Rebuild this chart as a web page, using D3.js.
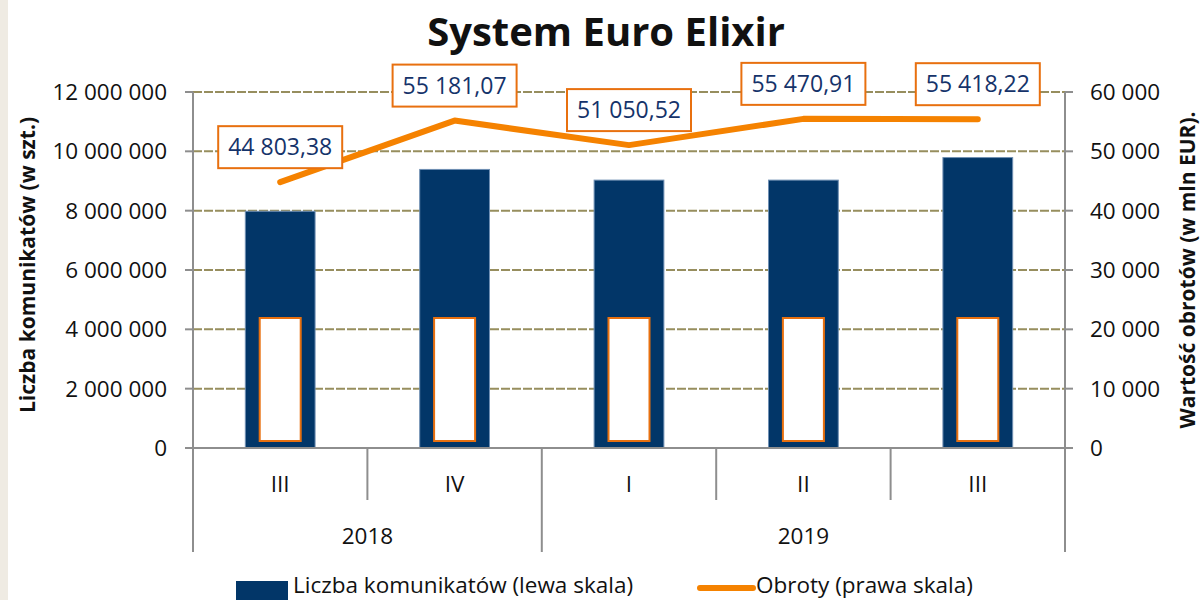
<!DOCTYPE html>
<html>
<head>
<meta charset="utf-8">
<title>System Euro Elixir</title>
<script src="https://cdn.jsdelivr.net/npm/d3@7"></script>
<style>
	body { margin: 0; background: #ffffff; }
	svg text { font-family: "Open Sans", "Noto Sans", sans-serif; fill: #111; }
	.grid line { stroke: #978e5e; stroke-width: 2; stroke-dasharray: 9 2; }
	.axisLine { stroke: #8e8e8e; stroke-width: 2; }
	.bar { fill: #023668; stroke: #6f8fb3; stroke-width: 1; }
	.innerBox { fill: #ffffff; stroke: #e8700f; stroke-width: 2; }
	.lineBox { fill: #ffffff; stroke: #e8700f; stroke-width: 2; }
	.lineLabel { fill: #15336a !important; font-size: 23px; text-anchor: middle; }
	.tick { font-size: 22.5px; }
	.legText { font-size: 22.5px; }
</style>
</head>
<body>
<div id="chart"></div>
<script>
var width  = 1202;
var height = 600;

// data
var quarters = ["III", "IV", "I", "II", "III"];
var years    = ["2018", "2019"];
var yearSpan = [2, 3]; // number of quarters in each year
var messages = [7980000, 9390000, 9030000, 9030000, 9790000];
var turnover = [44803.38, 55181.07, 51050.52, 55470.91, 55418.22];
var leftTicks  = [0, 2000000, 4000000, 6000000, 8000000, 10000000, 12000000];
var rightTicks = [0, 10000, 20000, 30000, 40000, 50000, 60000];

var plot = { left: 193, right: 1065, top: 92, bottom: 448 };

var pl = d3.formatLocale({ decimal: ",", thousands: "\u00a0", grouping: [3], currency: ["", ""] });
var fmtInt = pl.format(",d");
var fmtDec = pl.format(",.2f");

var svg = d3.select("#chart").append("svg")
	.attr("width", width)
	.attr("height", height);

// beige strip at left edge
svg.append("rect").attr("x", 0).attr("y", 0).attr("width", 8).attr("height", height).attr("fill", "#efebe3");

var x = d3.scaleBand()
	.domain(d3.range(quarters.length))
	.range([plot.left, plot.right])
	.paddingInner(0.6)
	.paddingOuter(0.3);

var yL = d3.scaleLinear().domain([0, 12000000]).range([plot.bottom, plot.top]);
var yR = d3.scaleLinear().domain([0, 60000]).range([plot.bottom, plot.top]);

// gridlines
svg.append("g").attr("class", "grid")
	.selectAll("line").data(leftTicks.slice(1)).enter().append("line")
	.attr("x1", plot.left).attr("x2", plot.right)
	.attr("y1", function(d) { return yL(d); })
	.attr("y2", function(d) { return yL(d); });

// bars
svg.selectAll(".bar").data(messages).enter().append("rect")
	.attr("class", "bar")
	.attr("x", function(d, i) { return x(i); })
	.attr("width", x.bandwidth())
	.attr("y", function(d) { return yL(d); })
	.attr("height", function(d) { return yL(0) - yL(d); });

// empty (vertical) bar label boxes
svg.selectAll(".innerBox").data(messages).enter().append("rect")
	.attr("class", "innerBox")
	.attr("x", function(d, i) { return x(i) + x.bandwidth() / 2 - 20.5; })
	.attr("width", 41)
	.attr("y", yL(0) - 7 - 123)
	.attr("height", 123);

// axes lines
svg.append("line").attr("class", "axisLine")
	.attr("x1", plot.left).attr("x2", plot.left).attr("y1", plot.top).attr("y2", 552);
svg.append("line").attr("class", "axisLine")
	.attr("x1", plot.right).attr("x2", plot.right).attr("y1", plot.top).attr("y2", 552);
svg.append("line").attr("class", "axisLine")
	.attr("x1", plot.left - 8).attr("x2", plot.right + 8).attr("y1", plot.bottom).attr("y2", plot.bottom);

// left ticks
var lt = svg.append("g");
lt.selectAll("line").data(leftTicks).enter().append("line").attr("class", "axisLine")
	.attr("x1", plot.left - 8).attr("x2", plot.left)
	.attr("y1", function(d) { return yL(d); }).attr("y2", function(d) { return yL(d); });
lt.selectAll("text").data(leftTicks).enter().append("text").attr("class", "tick")
	.attr("x", 167).attr("y", function(d) { return yL(d); })
	.attr("dy", "0.35em").attr("text-anchor", "end")
	.text(function(d) { return fmtInt(d); });

// right ticks
var rt = svg.append("g");
rt.selectAll("line").data(rightTicks).enter().append("line").attr("class", "axisLine")
	.attr("x1", plot.right).attr("x2", plot.right + 8)
	.attr("y1", function(d) { return yR(d); }).attr("y2", function(d) { return yR(d); });
rt.selectAll("text").data(rightTicks).enter().append("text").attr("class", "tick")
	.attr("x", 1090).attr("y", function(d) { return yR(d); })
	.attr("dy", "0.35em").attr("text-anchor", "start")
	.text(function(d) { return fmtInt(d); });

// category axis: quarter separators and labels
var step = x.step();
var bounds = d3.range(1, quarters.length);
var yearBounds = [yearSpan[0]];
svg.selectAll(".qsep").data(bounds).enter().append("line").attr("class", "axisLine")
	.attr("x1", function(d) { return plot.left + d * step; })
	.attr("x2", function(d) { return plot.left + d * step; })
	.attr("y1", plot.bottom)
	.attr("y2", function(d) { return yearBounds.indexOf(d) >= 0 ? 552 : 500; });

svg.selectAll(".qlab").data(quarters).enter().append("text").attr("class", "tick")
	.attr("x", function(d, i) { return x(i) + x.bandwidth() / 2; })
	.attr("y", 484).attr("dy", "0.35em").attr("text-anchor", "middle")
	.text(function(d) { return d; });

var start = 0;
years.forEach(function(yr, k) {
	var x0 = plot.left + start * step;
	var x1 = plot.left + (start + yearSpan[k]) * step;
	svg.append("text").attr("class", "tick")
		.attr("x", (x0 + x1) / 2).attr("y", 536).attr("dy", "0.35em")
		.attr("text-anchor", "middle").text(yr);
	start += yearSpan[k];
});

// line
var line = d3.line()
	.x(function(d, i) { return x(i) + x.bandwidth() / 2; })
	.y(function(d) { return yR(d); });
svg.append("path").datum(turnover)
	.attr("d", line)
	.attr("fill", "none")
	.attr("stroke", "#f58200")
	.attr("stroke-width", 6)
	.attr("stroke-linecap", "round")
	.attr("stroke-linejoin", "round");

// line labels
var lbl = svg.selectAll(".lbl").data(turnover).enter().append("g")
	.attr("transform", function(d, i) {
		return "translate(" + (x(i) + x.bandwidth() / 2) + "," + (yR(d) - 14 - 21) + ")";
	});
lbl.append("rect").attr("class", "lineBox")
	.attr("x", -62).attr("y", -21).attr("width", 124).attr("height", 42);
lbl.append("text").attr("class", "lineLabel")
	.attr("y", 0).attr("dy", "0.35em")
	.text(function(d) { return fmtDec(d); });

// title
svg.append("text")
	.attr("x", 606).attr("y", 32).attr("dy", "0.35em")
	.attr("text-anchor", "middle")
	.style("font-size", "40px").style("font-weight", "bold")
	.text("System Euro Elixir");

// axis titles
svg.append("text")
	.attr("transform", "translate(28,265) rotate(-90)")
	.attr("text-anchor", "middle").attr("dy", "0.35em")
	.style("font-size", "21px").style("font-weight", "bold")
	.text("Liczba komunikatów (w  szt.)");
svg.append("text")
	.attr("transform", "translate(1188,270) rotate(-90)")
	.attr("text-anchor", "middle").attr("dy", "0.35em")
	.style("font-size", "21px").style("font-weight", "bold")
	.text("Wartość obrotów (w mln EUR).");

// legend
var leg = svg.append("g");
leg.append("rect").attr("x", 236).attr("y", 581).attr("width", 52).attr("height", 19).attr("fill", "#023668");
leg.append("text").attr("class", "legText").attr("x", 293).attr("y", 585).attr("dy", "0.35em")
	.text("Liczba komunikatów (lewa skala)");
leg.append("line").attr("x1", 700).attr("x2", 753).attr("y1", 588).attr("y2", 588)
	.attr("stroke", "#f58200").attr("stroke-width", 6).attr("stroke-linecap", "round");
leg.append("text").attr("class", "legText").attr("x", 756).attr("y", 585).attr("dy", "0.35em")
	.text("Obroty (prawa skala)");
</script>
</body>
</html>
